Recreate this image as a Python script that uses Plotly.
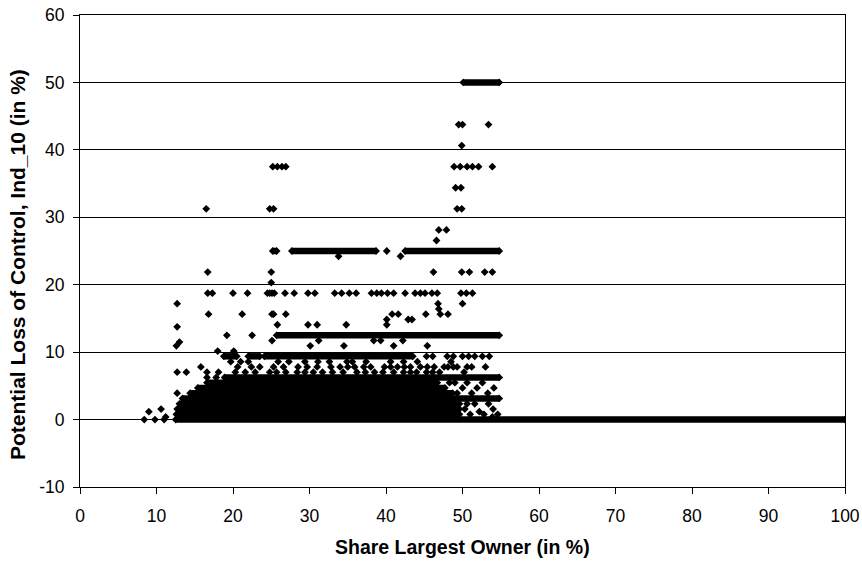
import plotly.graph_objects as go

# Dense runs of points drawn as one solid band: level, first x, last x
run_level = [0, 0.78, 1.56, 2.34, 3.13, 3.91, 4.69, 5.47, 6.25,
             9.38, 9.38, 9.38, 12.5, 25, 25, 25, 50]
run_start = [12.5, 12.6, 12.7, 13.0, 13.4, 14.4, 15.4, 16.6, 18.9,
             18.8, 22.0, 24.1, 25.7, 25.2, 27.7, 42.5, 50.1]
run_end = [100, 49.6, 49.6, 49.6, 54.8, 48.7, 47.7, 46.7, 54.8,
           20.5, 23.5, 43.5, 54.8, 25.7, 38.7, 54.8, 54.8]

# Scattered points above the 12.5 band
upper_x = [49.5, 50.0, 53.4,
           49.9,
           25.2, 25.8, 26.4, 26.9, 48.9, 49.7, 50.6, 51.3, 52.1, 53.9,
           49.1, 49.8,
           16.5, 24.8, 25.3, 49.3, 49.9,
           46.9, 47.9,
           46.6,
           40.1,
           33.8, 41.9,
           16.7, 25.0, 46.2, 49.9, 50.9, 52.9, 53.9,
           25.0,
           16.7, 17.3, 20.0, 21.9, 24.5, 24.8, 25.1, 25.4, 26.8, 28.0,
           29.8, 30.7, 33.3, 34.2, 35.2, 36.1, 38.1, 38.8, 39.4, 40.2,
           41.0, 42.5, 43.8, 44.5, 45.1, 46.0, 46.7, 49.8, 50.5, 51.3,
           12.7, 46.8, 50.0,
           46.9,
           16.8, 21.2, 25.1, 25.3, 26.9, 40.8, 41.6, 45.2, 47.1, 48.1,
           40.1, 42.9, 43.4,
           25.8, 29.8, 31.0, 34.8, 40.1,
           12.7]
upper_y = [43.75, 43.75, 43.75,
           40.63,
           37.5, 37.5, 37.5, 37.5, 37.5, 37.5, 37.5, 37.5, 37.5, 37.5,
           34.38, 34.38,
           31.25, 31.25, 31.25, 31.25, 31.25,
           28.13, 28.13,
           26.56,
           25,
           24.22, 24.22,
           21.88, 21.88, 21.88, 21.88, 21.88, 21.88, 21.88,
           20.31,
           18.75, 18.75, 18.75, 18.75, 18.75, 18.75, 18.75, 18.75, 18.75, 18.75,
           18.75, 18.75, 18.75, 18.75, 18.75, 18.75, 18.75, 18.75, 18.75, 18.75,
           18.75, 18.75, 18.75, 18.75, 18.75, 18.75, 18.75, 18.75, 18.75, 18.75,
           17.19, 17.19, 17.19,
           16.41,
           15.63, 15.63, 15.63, 15.63, 15.63, 15.63, 15.63, 15.63, 15.63, 15.63,
           14.84, 14.84, 14.84,
           14.06, 14.06, 14.06, 14.06, 14.06,
           13.75]

# Scattered points between the 6.25 and 12.5 bands
mid_x = [25.1, 31.2, 38.4, 39.3, 42.2, 13.0,
         12.6, 30.1, 34.5, 41.0, 45.4,
         19.2, 22.5,
         18.0, 20.1,
         45.3, 46.1, 48.0, 48.8, 50.0, 50.8, 51.6, 52.6, 53.5,
         19.7, 21.0, 22.0, 25.9, 29.4, 31.1, 34.9, 35.6, 40.6, 42.3, 48.5,
         27.3, 32.6, 37.4, 44.1,
         15.8, 20.6, 25.3, 28.5, 29.7, 32.8, 35.0, 35.9, 38.0, 39.8, 41.5,
         43.2, 44.5, 45.4, 46.3, 47.6, 48.1, 48.8, 49.3, 50.6, 51.2, 53.0,
         22.4, 23.5, 26.6, 31.0, 34.0, 37.1, 40.6, 42.4,
         12.7, 13.9, 16.6, 18.1, 24.8, 25.7, 26.9, 28.4, 30.5, 33.0, 36.2,
         38.5, 41.0, 42.3, 44.0, 47.0, 50.2,
         20.3, 21.6, 22.9, 29.4, 31.7, 34.4, 37.3, 39.6, 43.2, 45.3, 46.1]
mid_y = [11.72, 11.72, 11.72, 11.72, 11.72, 11.5,
         10.94, 10.94, 10.94, 10.94, 10.94,
         12.5, 12.5,
         10.16, 10.16,
         9.38, 9.38, 9.38, 9.38, 9.38, 9.38, 9.38, 9.38, 9.38,
         8.59, 8.59, 8.59, 8.59, 8.59, 8.59, 8.59, 8.59, 8.59, 8.59, 8.59,
         8.59, 8.59, 8.59, 8.59,
         7.81, 7.81, 7.81, 7.81, 7.81, 7.81, 7.81, 7.81, 7.81, 7.81, 7.81,
         7.81, 7.81, 7.81, 7.81, 7.81, 7.81, 7.81, 7.81, 7.81, 7.81, 7.81,
         7.81, 7.81, 7.81, 7.81, 7.81, 7.81, 7.81, 7.81,
         7.03, 7.03, 7.03, 7.03, 7.03, 7.03, 7.03, 7.03, 7.03, 7.03, 7.03,
         7.03, 7.03, 7.03, 7.03, 7.03, 7.03,
         7.03, 7.03, 7.03, 7.03, 7.03, 7.03, 7.03, 7.03, 7.03, 7.03, 7.03]

# Scattered points at the low end (left tail and the 50-55 edge)
low_x = [8.4, 9.0, 9.8, 10.6, 11.0, 11.2,
         12.7, 16.6, 17.8,
         50.3, 51.0, 51.6, 52.2, 52.8, 53.4, 54.0, 54.6, 50.6, 53.9,
         49.3, 50.0, 50.6, 51.2, 51.9, 52.6, 53.3, 54.1, 49.0, 48.3]
low_y = [0, 1.17, 0, 1.56, 0, 0.39,
         3.91, 6.25, 6.25,
         1.56, 0.78, 2.34, 1.17, 0.78, 2.34, 1.56, 0.78, 2.34, 0.39,
         3.91, 4.69, 5.47, 3.91, 4.69, 5.47, 3.91, 4.69, 5.47, 5.47]

x_ticks = [0, 10, 20, 30, 40, 50, 60, 70, 80, 90, 100]
y_ticks = [-10, 0, 10, 20, 30, 40, 50, 60]
y_tick_text = ["-10", "0", "10", "20", "30", "40", "50", "60"]

MARK = dict(symbol="diamond", size=6, color="black", line=dict(width=0))

run_x, run_y = [], []
for lv, a, b in zip(run_level, run_start, run_end):
    run_x += [a, b, None]
    run_y += [lv, lv, None]

fig = go.Figure()
fig.add_trace(go.Scatter(x=run_x, y=run_y, mode="lines+markers",
                         line=dict(color="black", width=6.5), marker=MARK))
for xs, ys in [(upper_x, upper_y), (mid_x, mid_y), (low_x, low_y)]:
    fig.add_trace(go.Scatter(x=xs, y=ys, mode="markers", marker=MARK))

tick_font = dict(family="Liberation Sans, Arial", size=17.5, color="black")
xtitle_font = dict(family="Liberation Sans, Arial", size=19.5, color="black")
ytitle_font = dict(family="Liberation Sans, Arial", size=21, color="black")

fig.update_layout(
    width=862, height=564,
    margin=dict(l=80, r=17, t=15, b=77),
    paper_bgcolor="white", plot_bgcolor="white",
    showlegend=False,
    font=tick_font,
)
fig.update_xaxes(
    range=[0, 100], tickvals=x_ticks, showgrid=False, zeroline=False,
    showline=True, mirror=True, linecolor="black", linewidth=1,
    ticks="outside", ticklen=6, tickcolor="black", tickfont=tick_font,
    ticklabelstandoff=7, automargin=False,
)
fig.update_yaxes(
    range=[-10, 60], tickvals=y_ticks, ticktext=y_tick_text,
    showgrid=True, gridcolor="black", gridwidth=1,
    zeroline=False, showline=True, mirror=True, linecolor="black", linewidth=1,
    ticks="outside", ticklen=6, tickcolor="black", tickfont=tick_font,
    ticklabelstandoff=5, automargin=False,
)

# axis titles placed as annotations to sit where the reference has them
fig.add_annotation(text="<b>Share Largest Owner (in %)</b>", xref="paper", yref="paper",
                   x=0.5, y=0, yshift=-60, showarrow=False, font=xtitle_font,
                   xanchor="center", yanchor="middle")
fig.add_annotation(text="<b>Potential Loss of Control, Ind_10 (in %)</b>", xref="paper",
                   yref="paper", x=0, xshift=-63, y=0.5, yshift=-14, textangle=-90,
                   showarrow=False, font=ytitle_font, xanchor="center", yanchor="middle")

# drop the browser's default 8px body margin so the figure fills the window
fig.write_html("out.html", config={"displayModeBar": False},
               post_script="document.body.style.margin='0';")
